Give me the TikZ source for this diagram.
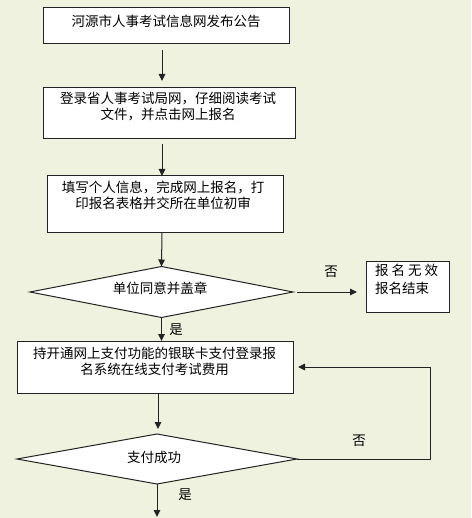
\documentclass[tikz,border=0pt]{standalone}
\usepackage{fontspec}
\newfontfamily\cjk{Noto Sans CJK SC}
\usetikzlibrary{arrows.meta,shapes.geometric,calc}
\definecolor{bg}{RGB}{238,242,222}
\definecolor{ln}{RGB}{35,35,35}
\begin{document}
\begin{tikzpicture}[x=1pt,y=-1pt,
  every node/.style={font=\cjk\fontsize{13.5}{16}\selectfont, inner sep=0pt, outer sep=0pt},
  box/.style={draw=ln, line width=1pt, fill=white, rectangle},
  dia/.style={draw=ln, line width=1pt, fill=white, diamond},
  arr/.style={draw=ln, line width=1pt, -{Triangle[length=7pt,width=6.5pt]}},
  conn/.style={draw=ln, line width=1pt}
]
\fill[bg] (0,0) rectangle (471,518);
\useasboundingbox (0,0) rectangle (471,518);

% boxes
\node[box, minimum width=246pt, minimum height=36pt] (b1) at (166,26) {};
\node[box, minimum width=252pt, minimum height=51pt] (b2) at (169,113.5) {};
\node[box, minimum width=236pt, minimum height=56pt] (b3) at (165,204) {};
\node[dia, minimum width=263pt, minimum height=51pt] (d1) at (161.5,292) {};
\node[box, minimum width=83pt, minimum height=51pt] (b4) at (407.5,286.5) {};
\node[box, minimum width=276pt, minimum height=52pt] (b5) at (155,367) {};
\node[dia, minimum width=280pt, minimum height=50pt] (d2) at (157,459) {};
\coordinate (end) at (157,517);
\coordinate (b4in) at ($(b4.west)+(-9,0)$);

% texts
\node (t1) at (166,21) {河源市人事考试信息网发布公告};
\node[align=center] (t2) at (168,107) {登录省人事考试局网，仔细阅读考试\\文件，并点击网上报名};
\node[align=center] (t3) at (163,195.5) {填写个人信息，完成网上报名，打\\印报名表格并交所在单位初审};
\node (t4) at (160,288) {单位同意并盖章};
\node[align=left, anchor=west, font=\cjk\fontsize{13.5}{18}\selectfont] (t5) at (375,279) {报\kern3pt 名\kern3pt 无\kern3pt 效\\报名结束};
\node[align=center] (t6) at (154.5,361) {持开通网上支付功能的银联卡支付登录报\\名系统在线支付考试费用};
\node (t7) at (154,457) {支付成功};

% labels
\node (no1) at (331,272) {否};
\node (yes1) at (176,330) {是};
\node (no2) at (359,441) {否};
\node (yes2) at (185,495) {是};

% connectors
\draw[arr] ($(b1.south)+(-4,6)$) -- ($(b2.north)+(-7,-7)$);
\draw[arr] ($(b2.south)+(-7,5)$) -- ($(b3.north)+(-3,0)$);
\draw[arr] ($(b3.south)+(-3,0)$) -- (d1.north);
\draw[arr] ($(d1.east)+(4,0)$) -- (b4in |- d1.east);
\draw[arr] (d1.south) -- (d1.south |- b5.north);
\draw[arr] ($(b5.south)+(3,0)$) -- ($(d2.north)+(1,-5)$);
\draw[arr] (d2.east) -- ++(133,0) |- ($(b5.east)+(5,0)$);
\draw[arr] (d2.south) -- (end);
\end{tikzpicture}
\end{document}
